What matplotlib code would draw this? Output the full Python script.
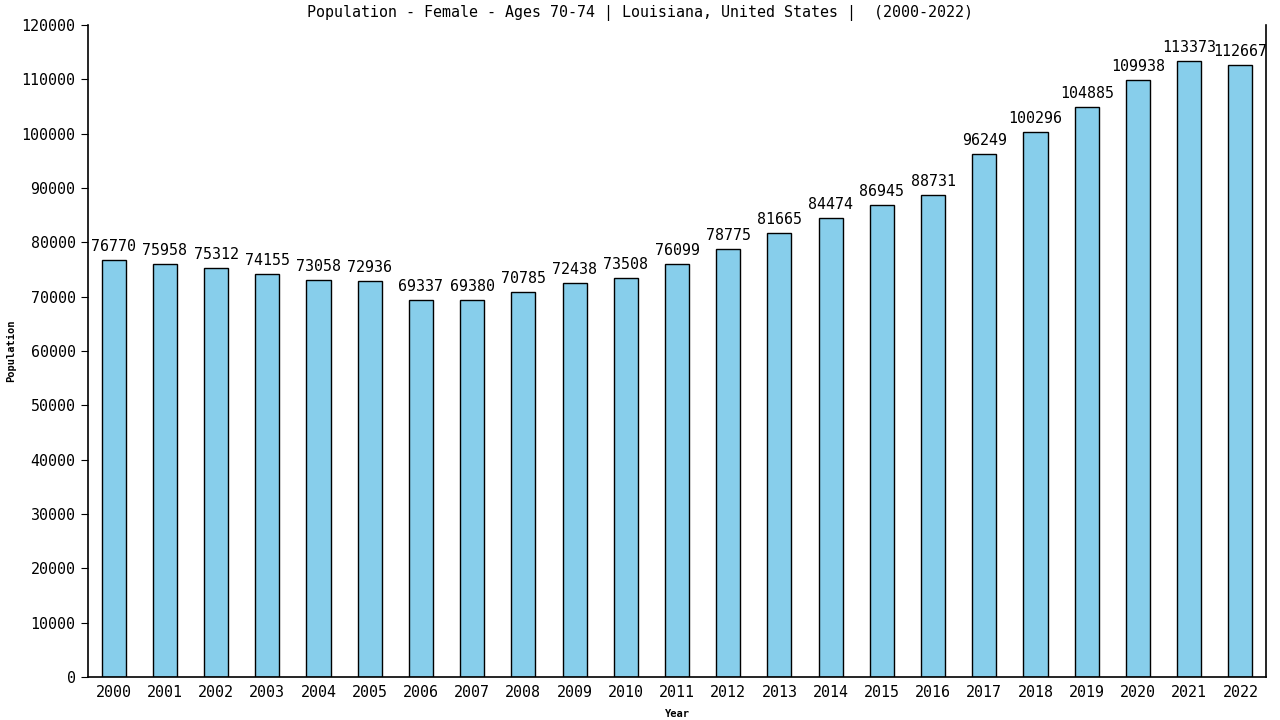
import matplotlib
matplotlib.use("Agg")
import matplotlib.pyplot as plt

years = [str(y) for y in range(2000, 2023)]
values = [76770, 75958, 75312, 74155, 73058, 72936, 69337, 69380, 70785, 72438,
          73508, 76099, 78775, 81665, 84474, 86945, 88731, 96249, 100296, 104885,
          109938, 113373, 112667]
yticks = list(range(0, 120001, 10000))

title = "Population - Female - Ages 70-74 | Louisiana, United States |  (2000-2022)"

plt.rcParams['font.family'] = ['DejaVu Sans Mono']

fig = plt.figure(figsize=(12.8, 7.2), dpi=100)
ax = fig.add_axes([88/1280, 1-677/720, (1266-88)/1280, (677-25)/720])

x = list(range(len(years)))
ax.bar(x, values, width=0.47, color='#87CEEB', edgecolor='black', linewidth=1)
for xi, v in zip(x, values):
    ax.text(xi, v + 1100, str(v), ha='center', va='bottom', fontsize=10.8)

ax.set_xlim(-0.5, len(years) - 0.5)
ax.set_ylim(0, 120000)
ax.set_xticks(x)
ax.set_xticklabels(years, fontsize=10.8)
ax.set_yticks(yticks)
ax.set_yticklabels([str(t) for t in yticks], fontsize=10.8)
ax.tick_params(axis='x', length=0, pad=6)
ax.tick_params(axis='y', length=5, direction='out', pad=4)
ax.spines['top'].set_visible(False)
for s in ['left', 'right', 'bottom']:
    ax.spines[s].set_linewidth(1.2)

ax.set_xlabel('Year', fontsize=7.5, fontweight='bold', labelpad=6)
ax.set_ylabel('Population', fontsize=7.5, fontweight='bold', labelpad=4)
fig.text(640/1280, 1-13/720, title, ha='center', va='center', fontsize=10.8)

fig.savefig('out.png', dpi=100)
